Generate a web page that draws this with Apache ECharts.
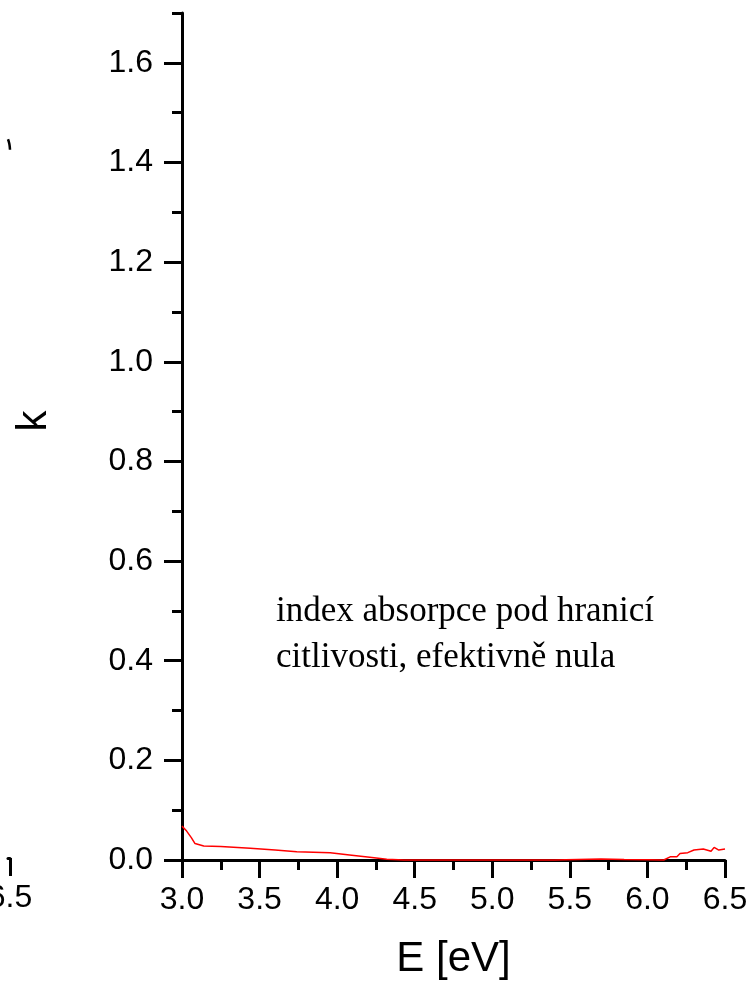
<!DOCTYPE html>
<html>
<head>
<meta charset="utf-8">
<script src="https://cdn.jsdelivr.net/npm/echarts@6/dist/echarts.min.js"></script>
<style>
  html, body { margin: 0; padding: 0; background: #fff; }
  #chart { width: 754px; height: 990px; }
</style>
</head>
<body>
<div id="chart"></div>
<script>
// Extinction coefficient k versus photon energy
const energy = [3.0, 3.03, 3.06, 3.084, 3.14, 3.25, 3.44, 3.6, 3.74, 3.955, 4.08, 4.21, 4.32, 4.43, 4.6, 5.0, 5.4, 5.55, 5.7, 5.85, 6.0, 6.105, 6.15, 6.19, 6.21, 6.26, 6.30, 6.36, 6.41, 6.43, 6.46, 6.5];
const kValues = [0.068, 0.058, 0.045, 0.033, 0.028, 0.027, 0.0235, 0.020, 0.0167, 0.0147, 0.010, 0.0053, 0.0013, 0.0, 0.0, 0.0, 0.0, 0.001, 0.002, 0.001, 0.0005, 0.0, 0.0067, 0.0067, 0.013, 0.0147, 0.020, 0.022, 0.0174, 0.0254, 0.020, 0.022];

// Tail of the neighbouring panel's curve (n), seen at the left edge
const nEnergy = [6.448, 6.469, 6.487, 6.5];
const nValues = [1.446, 1.441, 1.435, 1.425];
const nTicks = [6.5];

const xTicks = [3.0, 3.5, 4.0, 4.5, 5.0, 5.5, 6.0, 6.5];
const yTicks = [0.0, 0.2, 0.4, 0.6, 0.8, 1.0, 1.2, 1.4, 1.6];

const note = ['index absorpce pod hranicí', 'citlivosti, efektivně nula'];

const sans = '"Liberation Sans", Arial, sans-serif';
const serif = '"Liberation Serif", "Times New Roman", serif';
const labelFont = { color: '#000', fontFamily: sans, fontSize: 32 };
const lineStyle = { color: '#000', width: 3 };

const chart = echarts.init(document.getElementById('chart'), null, { renderer: 'canvas' });

chart.setOption({
  animation: false,
  backgroundColor: '#fff',
  grid: [
    { left: 182, right: 29, top: 13, bottom: 130, containLabel: false },
    { left: 0, width: 8, top: 13, bottom: 132, containLabel: false }
  ],
  xAxis: [
    {
      gridIndex: 0, type: 'value', position: 'bottom', min: 3, max: 6.5, interval: 0.5,
      name: 'E [eV]', nameLocation: 'middle', nameGap: 78,
      nameTextStyle: { color: '#000', fontFamily: sans, fontSize: 42 },
      axisLine: { show: true, onZero: false, lineStyle: lineStyle },
      axisTick: { show: true, inside: false, length: 18, lineStyle: lineStyle, customValues: xTicks },
      axisLabel: { ...labelFont, margin: 24, customValues: xTicks, formatter: v => v.toFixed(1) },
      splitLine: { show: false }
    },
    {
      gridIndex: 0, type: 'value', position: 'bottom', min: 3, max: 6.5, interval: 0.25,
      axisLine: { show: false, onZero: false },
      axisTick: { show: true, inside: false, length: 10, lineStyle: lineStyle },
      axisLabel: { show: false },
      splitLine: { show: false }
    },
    {
      gridIndex: 1, type: 'value', position: 'bottom', min: 6.448, max: 6.5,
      axisLine: { show: true, onZero: false, lineStyle: lineStyle },
      axisTick: { show: true, inside: false, length: 18, lineStyle: lineStyle, customValues: nTicks },
      axisLabel: { ...labelFont, margin: 24, customValues: nTicks, formatter: v => v.toFixed(1) },
      splitLine: { show: false }
    }
  ],
  yAxis: [
    {
      gridIndex: 0, type: 'value', position: 'left', min: 0, max: 1.7, interval: 0.1,
      axisLine: { show: true, onZero: false, lineStyle: lineStyle },
      axisTick: { show: true, inside: false, length: 18, lineStyle: lineStyle, customValues: yTicks },
      axisLabel: { ...labelFont, margin: 29, customValues: yTicks, formatter: v => v.toFixed(1) },
      splitLine: { show: false }
    },
    {
      gridIndex: 0, type: 'value', position: 'left', min: 0, max: 1.7, interval: 0.1,
      axisLine: { show: false, onZero: false },
      axisTick: { show: true, inside: false, length: 10, lineStyle: lineStyle },
      axisLabel: { show: false },
      splitLine: { show: false }
    },
    {
      gridIndex: 1, type: 'value', position: 'left', min: 0, max: 1.7, show: false
    }
  ],
  series: [
    {
      type: 'line', xAxisIndex: 0, yAxisIndex: 0,
      data: energy.map((e, i) => [e, kValues[i]]),
      showSymbol: false, symbol: 'none', smooth: false,
      lineStyle: { color: '#ff0000', width: 1.5 },
      clip: false, z: 5
    },
    {
      type: 'line', xAxisIndex: 2, yAxisIndex: 2,
      data: nEnergy.map((e, i) => [e, nValues[i]]),
      showSymbol: false, symbol: 'none', smooth: true,
      lineStyle: { color: '#000', width: 2.5 },
      clip: false
    }
  ],
  graphic: [
    {
      type: 'text', x: 34, y: 421, rotation: Math.PI / 2,
      style: { text: 'k', fill: '#000', font: '42px ' + sans, textAlign: 'center', textVerticalAlign: 'middle' }
    },
    {
      type: 'text', left: 276, top: 589,
      style: { text: note.join('\n'), fill: '#000', font: '35px ' + serif, lineHeight: 46 }
    }
  ]
});
</script>
</body>
</html>
